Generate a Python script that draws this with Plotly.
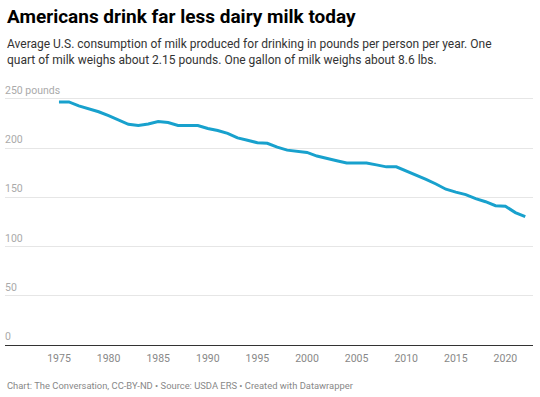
import plotly.graph_objects as go

years = list(range(1975, 2023))
milk_lbs = [247, 247, 243, 240, 237, 233, 229, 224.3, 223, 224.5,
            227, 226, 223, 223, 223, 220, 218, 215, 210.5, 208,
            205.5, 205, 201, 198, 196.7, 195.7, 192, 190, 187.3, 185,
            185, 185, 183, 181, 181, 177, 172.5, 168.3, 163.6, 158.3,
            155.3, 152.8, 148.7, 145.6, 141.5, 141, 134.5, 130.4]

y_ticks = [0, 50, 100, 150, 200, 250]
y_labels = ["0", "50", "100", "150", "200", "250 pounds"]
x_ticks = [1975, 1980, 1985, 1990, 1995, 2000, 2005, 2010, 2015, 2020]

title = "Americans drink far less dairy milk today"
subtitle = ("Average U.S. consumption of milk produced for drinking in pounds per person per year. One<br>"
            "quart of milk weighs about 2.15 pounds. One gallon of milk weighs about 8.6 lbs.")
footer = "Chart: The Conversation, CC-BY-ND • Source: USDA ERS • Created with Datawrapper"

W, H = 540, 397
Y_TOP = 252
ML, MR, MB = 5, 7, 51.7
MT = (H - MB) - Y_TOP * 0.984
PH = H - MT - MB


def py(pix):
    return (H - MB - pix) / PH


fig = go.Figure()
fig.add_trace(go.Scatter(
    x=years, y=milk_lbs, mode="lines",
    line=dict(color="#18a1cd", width=3, shape="linear"),
    hoverinfo="x+y", showlegend=False,
))

annotations = [
    dict(text="<b>" + title + "</b>", xref="paper", yref="paper",
         x=0, y=py(3), xanchor="left", yanchor="top", showarrow=False,
         font=dict(family="Roboto", size=19, color="#000")),
    dict(text=subtitle, xref="paper", yref="paper", align="left",
         x=0, y=py(35), xanchor="left", yanchor="top", showarrow=False,
         font=dict(family="Roboto", size=12, color="#333")),
    dict(text=footer, xref="paper", yref="paper",
         x=0, y=py(393), xanchor="left", yanchor="bottom", showarrow=False,
         font=dict(family="Roboto", size=9.4, color="#888")),
]
# y-axis labels sit above their gridlines, left-aligned (Datawrapper style)
for v, lab in zip(y_ticks, y_labels):
    annotations.append(dict(
        text=lab, xref="paper", yref="y", x=0, y=v,
        xanchor="left", yanchor="bottom", xshift=-2, yshift=0,
        showarrow=False, font=dict(family="Roboto", size=10.5, color="#aaa"),
    ))

fig.update_layout(
    width=W, height=H,
    margin=dict(l=ML, r=MR, t=MT, b=MB, autoexpand=False),
    paper_bgcolor="white", plot_bgcolor="white",
    font=dict(family="Roboto", color="#333"),
    xaxis=dict(
        range=[1969.56, 2022.78],
        tickvals=x_ticks,
        showgrid=False, zeroline=False,
        showline=True, linecolor="#333", linewidth=1.3,
        ticks="", tickfont=dict(family="Roboto", size=10.5, color="#888"),
        ticklabelstandoff=3,
    ),
    yaxis=dict(
        range=[0, Y_TOP],
        tickvals=y_ticks, showticklabels=False,
        showgrid=True, gridcolor="#e6e6e6", gridwidth=1,
        zeroline=False, showline=False, ticks="",
    ),
    annotations=annotations,
)

fig.write_html("out.html", config={"displayModeBar": False},
               post_script="document.body.style.margin='0';")
